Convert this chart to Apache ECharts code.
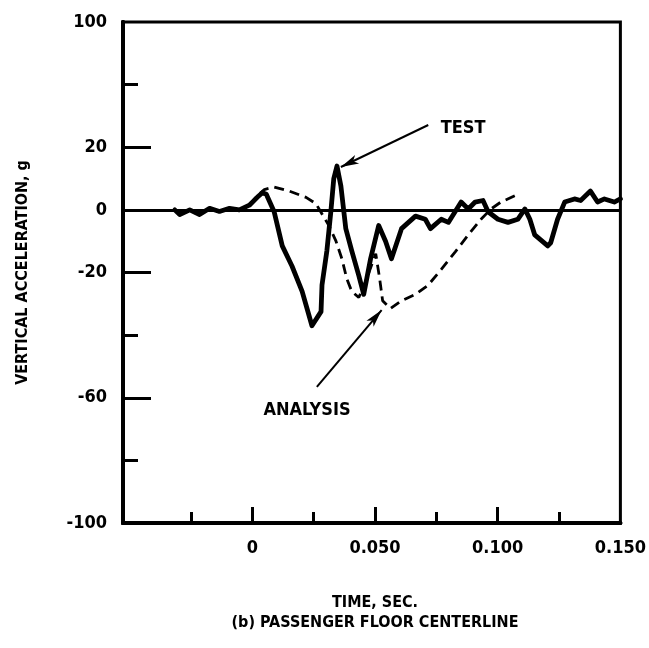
<!DOCTYPE html>
<html><head><meta charset="utf-8">
<script src="https://cdn.jsdelivr.net/npm/echarts@6/dist/echarts.min.js"></script>
<style>html,body{margin:0;padding:0;background:#fff}#c{width:649px;height:648px}</style>
</head><body><div id="c"></div>
<script>
const testTime = [-0.0316,-0.0296,-0.0255,-0.0215,-0.0174,-0.0134,-0.0093,-0.0053,-0.0012,0.0020,0.0041,0.0057,0.0089,0.0122,0.0162,0.0203,0.0243,0.0280,0.0284,0.0304,0.0320,0.0332,0.0345,0.0361,0.0381,0.0405,0.0434,0.0454,0.0482,0.0515,0.0543,0.0567,0.0608,0.0665,0.0705,0.0726,0.0770,0.0799,0.0851,0.0880,0.0908,0.0940,0.0961,0.1001,0.1042,0.1082,0.1111,0.1131,0.1151,0.1204,0.1216,0.1244,0.1273,0.1313,0.1338,0.1378,0.1407,0.1435,0.1475,0.1500];
const testAccel = [0,-1.5,0,-1.5,0.5,-0.5,0.5,0,1.5,4,5.5,5,-0.6,-11.5,-18,-26,-37,-32.5,-24,-13,-0.6,10,14,7.6,-6,-13,-21,-27,-15.6,-5,-10,-15.6,-6,-2,-3,-6,-3,-4,2.5,0.3,2.5,3,-0.6,-3,-4,-3,0.3,-3,-8,-11.5,-10.5,-3,2.5,3.5,3,6,2.5,3.5,2.5,3.5];
const analysisTime = [-0.0012,0.0020,0.0049,0.0089,0.0150,0.0219,0.0259,0.0284,0.0312,0.0341,0.0365,0.0385,0.0405,0.0434,0.0466,0.0503,0.0519,0.0531,0.0563,0.0608,0.0665,0.0717,0.0770,0.0827,0.0880,0.0932,0.0973,0.1013,0.1070];
const analysisAccel = [1.5,4.5,6.5,7.3,6,4,2,-1.3,-5,-10,-15.6,-22,-26,-28,-22,-14,-22,-29,-31.5,-29,-27,-24,-19,-13.4,-8,-3,0.3,2.5,4.5];
const xLabelValues = [0, 0.05, 0.1, 0.15];
const xLabelText = ['0', '0.050', '0.100', '0.150'];
const xMajorTicks = [0, 0.05, 0.1];
const xMinorTicks = [-0.025, 0.025, 0.075, 0.125];
const yLabelValues = [60, 20, 0, -20, -60, -100];
const yLabelText = ['100', '20', '0', '-20', '-60', '-100'];
const yMajorTicks = [20, -20, -60];
const yMinorTicks = [40, -40, -80];

const FONT = '"DejaVu Sans Condensed","Liberation Sans Narrow",sans-serif';
const chart = echarts.init(document.getElementById('c'));
const zip = (a, b) => a.map((v, i) => [v, b[i]]);
const xLab = v => { const i = xLabelValues.findIndex(x => Math.abs(x - v) < 1e-9); return i >= 0 ? xLabelText[i] : ''; };
const yLab = v => { const i = yLabelValues.findIndex(x => Math.abs(x - v) < 1e-9); return i >= 0 ? yLabelText[i] : ''; };
const XMIN = -0.0527, XMAX = 0.15;
const baseX = {
  type: 'value', min: XMIN, max: XMAX, position: 'bottom',
  splitLine: { show: false },
  axisLine: { show: true, onZero: false, lineStyle: { color: '#000', width: 4 } }
};
const baseY = {
  type: 'value', min: -100, max: 60, interval: 20, position: 'left',
  splitLine: { show: false },
  axisLine: { show: true, onZero: false, lineStyle: { color: '#000', width: 4 } }
};
chart.setOption({
  animation: false,
  backgroundColor: '#fff',
  grid: { left: 123, right: 26, top: 22, bottom: 125, show: true, borderColor: '#000', borderWidth: 3 },
  xAxis: [
    Object.assign({}, baseX, {
      axisTick: { show: true, inside: true, length: 16, customValues: xMajorTicks, lineStyle: { color: '#000', width: 3 } },
      axisLabel: { show: true, customValues: xLabelValues, formatter: xLab, margin: 16, color: '#000', fontSize: 18, fontWeight: 'bold', fontFamily: FONT }
    }),
    Object.assign({}, baseX, {
      axisTick: { show: true, inside: true, length: 11, customValues: xMinorTicks, lineStyle: { color: '#000', width: 3 } },
      axisLabel: { show: false }
    })
  ],
  yAxis: [
    Object.assign({}, baseY, {
      name: 'VERTICAL ACCELERATION, g', nameLocation: 'middle', nameRotate: 90, nameGap: 92,
      nameTextStyle: { color: '#000', fontSize: 16, fontWeight: 'bold', fontFamily: FONT },
      axisTick: { show: true, inside: true, length: 28, customValues: yMajorTicks, lineStyle: { color: '#000', width: 3 } },
      axisLabel: { show: true, customValues: yLabelValues, formatter: yLab, margin: 16, color: '#000', fontSize: 18, fontWeight: 'bold', fontFamily: FONT }
    }),
    Object.assign({}, baseY, {
      axisTick: { show: true, inside: true, length: 15, customValues: yMinorTicks, lineStyle: { color: '#000', width: 3 } },
      axisLabel: { show: false }
    })
  ],
  series: [
    {
      name: 'TEST', type: 'line', data: zip(testTime, testAccel), showSymbol: false,
      lineStyle: { color: '#000', width: 4.8, join: 'round', cap: 'round' },
      markLine: {
        silent: true, animation: false, symbol: ['none', 'none'],
        lineStyle: { color: '#000', width: 3, type: 'solid' }, label: { show: false },
        data: [{ yAxis: 0 }]
      }
    },
    {
      name: 'ANALYSIS', type: 'line', data: zip(analysisTime, analysisAccel), showSymbol: false,
      lineStyle: { color: '#000', width: 2.8, type: [10, 6] },
      markLine: {
        silent: true, animation: false, symbol: ['none', 'arrow'], symbolSize: [7, 18],
        lineStyle: { color: '#000', width: 2, type: 'solid' }, label: { show: false },
        data: [
          [{ coord: [0.0717, 27.1] }, { coord: [0.0361, 13.7] }],
          [{ coord: [0.0263, -56.5] }, { coord: [0.0527, -32] }]
        ]
      },
      markPoint: {
        silent: true, animation: false, symbol: 'circle', symbolSize: 0,
        label: { show: true, position: 'inside', color: '#000', fontSize: 18, fontWeight: 'bold', fontFamily: FONT },
        data: [
          { coord: [0.0859, 26.2], label: { formatter: 'TEST' } },
          { coord: [0.0223, -63.9], label: { formatter: 'ANALYSIS' } }
        ]
      }
    }
  ],
  graphic: [
    { type: 'text', x: 375, y: 595, style: { text: 'TIME, SEC.', fill: '#000', font: 'bold 16px ' + FONT, align: 'center' } },
    { type: 'text', x: 375, y: 615, style: { text: '(b) PASSENGER FLOOR CENTERLINE', fill: '#000', font: 'bold 16px ' + FONT, align: 'center' } }
  ]
});
</script></body></html>
